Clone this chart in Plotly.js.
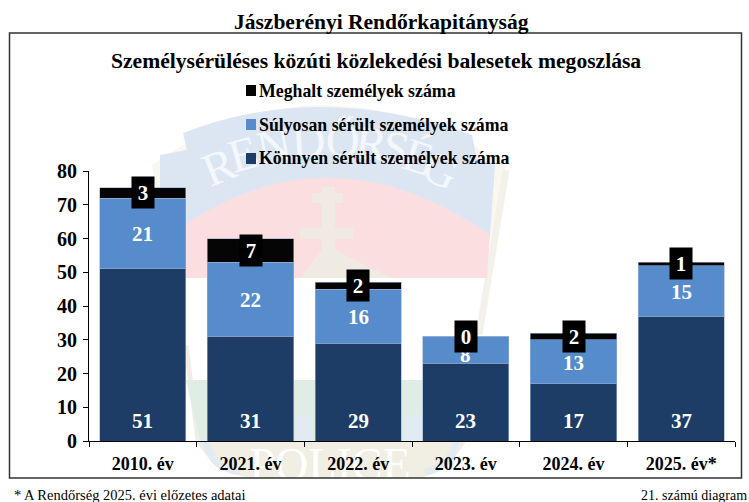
<!DOCTYPE html>
<html><head><meta charset="utf-8">
<script src="https://cdn.plot.ly/plotly-3.0.1.min.js"></script>
<style>html,body{margin:0;padding:0;background:#fff}#c{width:749px;height:502px}</style></head>
<body><div id="c"></div>
<script>
const categories = ["2010. év","2021. év","2022. év","2023. év","2024. év","2025. év*"];
const konnyen = [51,31,29,23,17,37];
const sulyosan = [21,22,16,8,13,15];
const meghalt = [3,7,2,0,2,1];
const seriesNames = ["Könnyen sérült személyek száma","Súlyosan sérült személyek száma","Meghalt személyek száma"];
const colors = {dark:"#1d3d66",mid:"#568ccb",black:"#050505"};
const F = "Liberation Serif, Times New Roman, serif";
const W=749,H=502;
const px=x=>x/W, py=y=>1-y/H;
function bar(name,vals,color){
  return {type:"bar",name,x:categories,y:vals,width:0.8,
    marker:{color,line:{color:"rgba(150,175,210,0.75)",width:0.8}},hoverinfo:"x+y+name"};
}
const traces=[bar(seriesNames[0],konnyen,colors.dark),bar(seriesNames[1],sulyosan,colors.mid),bar(seriesNames[2],meghalt,colors.black)];
const white={family:F,size:21,color:"#fff",weight:700};
const ann=[];
categories.forEach((c,i)=>{
  ann.push({x:c,y:0,xref:"x",yref:"y",yanchor:"middle",yshift:20,text:String(konnyen[i]),showarrow:false,font:white});
  ann.push({x:c,y:konnyen[i]+sulyosan[i]/2,xref:"x",yref:"y",yshift:sulyosan[i]<10?-5:-1,text:String(sulyosan[i]),showarrow:false,font:white});
});
categories.forEach((c,i)=>{
  ann.push({x:c,y:konnyen[i]+sulyosan[i]+meghalt[i]/2,xref:"x",yref:"y",text:String(meghalt[i]),showarrow:false,
    font:white,bgcolor:"#000",borderpad:0,width:22,height:31,align:"center",valign:"middle"});
});
const txt=(x,y,t,size,anchor,bold=true)=>({xref:"paper",yref:"paper",x:px(x),y:py(y),xanchor:anchor,yanchor:"middle",text:t,showarrow:false,
  font:{family:F,size,color:"#000",weight:bold?700:400}});
ann.push(txt(381.5,22,"Jászberényi Rendőrkapitányság",21.5,"center"));
ann.push(txt(375.5,61,"Személysérüléses közúti közlekedési balesetek megoszlása",21.6,"center"));
ann.push(txt(257,91,seriesNames[2],17.8,"left"));
ann.push(txt(257,125,seriesNames[1],17.8,"left"));
ann.push(txt(257,158,seriesNames[0],17.8,"left"));
ann.push(txt(12,495,"* A Rendőrség 2025. évi előzetes adatai",14.5,"left",false));
ann.push(txt(749,495,"21. számú diagram",14,"right",false));

const sq=(x0,y0,x1,y1,color)=>({type:"rect",xref:"paper",yref:"paper",x0:px(x0),x1:px(x1),y0:py(y0),y1:py(y1),fillcolor:color,line:{width:0},layer:"below"});
const P=(pts,fill,stroke,sw)=>{
  const d=pts.map(p=>p.length===1?p[0]:`${p[0]} ${p.slice(1).map((v,k)=>k%2?py(v):px(v)).join(" ")}`).join(" ");
  return {type:"path",xref:"paper",yref:"paper",path:d,fillcolor:fill||"rgba(0,0,0,0)",line:stroke?{color:stroke,width:sw}:{width:0},layer:"below"};
};
const lab=(x,y,t,size,angle,color)=>({type:"rect",xref:"paper",yref:"paper",x0:px(x-10),x1:px(x+10),y0:py(y+10),y1:py(y-10),
  fillcolor:"rgba(0,0,0,0)",line:{width:0},layer:"below",
  label:{text:t,textangle:angle,textposition:"middle center",font:{family:F,size,color}}});
const cream="#f9f7f0", creamLow="#f1eee3", bannerBlue="#dce6f3", pink="#fbdfe0", crossC="#efeae2", green="#dfede5", paleBlue="#e2eaf4";
const letters=["R","E","N","D","Ő","R","S","É","G"];
const lx=[217,242,273,308,343,372,397,420,443], ly=[162,149,141,136,135,138,143,152,165], la=[-22,-15,-10,-4,2,7,12,18,24];
const shapes=[
  P([["M",152,165],["Q",320,45,506,165],["L",490,240],["L",165,245],["Z"]],cream),
  P([["M",506,170],["L",479,335]],null,"#f3f1ea",7),
  P([["M",183,133],["Q",320,80,472,135],["L",477,160],["L",495,165],["L",490,235],["L",187,225],["L",160,205],["L",160,155],["L",187,150],["Z"]],bannerBlue),
  P([["M",165,240],["L",187,223],["Q",335,127,490,235],["L",487,278],["L",165,278],["Z"]],pink),
  sq(322,187,335,278,crossC),sq(312,193,343,203,crossC),sq(300,228,353,239,crossC),
  P([["M",300,278],["L",322,250],["L",335,250],["L",392,278],["Z"]],crossC),
  P([["M",186,345],["L",198,441]],null,"#f0eee4",5),
  P([["M",186,380],["L",490,380],["L",465,441],["L",200,441],["Z"]],green),
  sq(405,415,470,441,paleBlue),sq(296,415,312,441,paleBlue),
  P([["M",196,441],["Q",212,470,250,478],["L",420,478],["Q",450,470,466,441],["Z"]],creamLow),
  P([["M",205,436],["Q",208,468,240,472]],null,paleBlue,7),
  P([["M",458,436],["Q",452,468,425,472]],null,paleBlue,7),
  lab(330,459,"POLICE",46,0,"#ffffff"),
  ...letters.map((t,i)=>lab(lx[i],ly[i],t,47,la[i],"#f4f7fb")),
  {type:"rect",xref:"paper",yref:"paper",x0:px(9.5),x1:px(741.5),y0:py(33),y1:py(478),line:{color:"#333",width:1.5},layer:"below"},
  sq(246,85,256,96,colors.black),sq(246,119,256,130,colors.mid),sq(246,153,256,164,colors.dark)
];
const layout={width:W,height:H,margin:{l:0,r:0,t:0,b:0},paper_bgcolor:"#fff",plot_bgcolor:"rgba(0,0,0,0)",
  barmode:"stack",showlegend:false,annotations:ann,shapes,
  xaxis:{domain:[px(89),px(735)],type:"category",range:[-0.5,5.5],showgrid:false,showline:true,linecolor:"#000",linewidth:1,
    ticks:"outside",ticklen:5,tickson:"boundaries",tickcolor:"#000",ticklabelstandoff:6,tickfont:{family:F,size:18,color:"#000",weight:700},zeroline:false,anchor:"y"},
  yaxis:{domain:[py(441),py(171)],range:[0,80],dtick:10,showgrid:false,showline:true,linecolor:"#000",linewidth:1,
    ticks:"outside",ticklen:5,tickcolor:"#000",ticklabelstandoff:2,tickfont:{family:F,size:20,color:"#000",weight:700},zeroline:false,anchor:"x"}
};
Plotly.newPlot("c",traces,layout,{displayModeBar:false,staticPlot:true});
</script></body></html>
